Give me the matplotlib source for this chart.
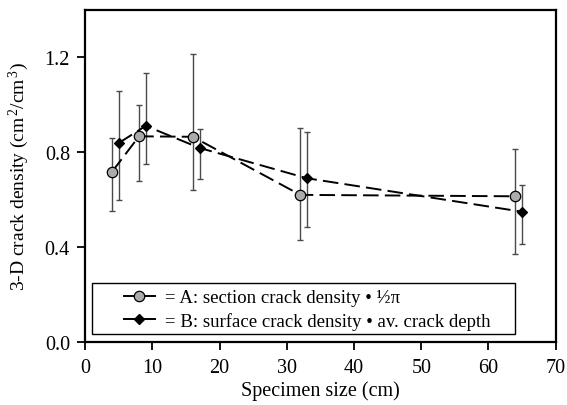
import matplotlib
matplotlib.use("Agg")
import matplotlib.pyplot as plt
from matplotlib.lines import Line2D
from matplotlib.patches import Rectangle

plt.rcParams['font.family'] = ['Liberation Serif', 'DejaVu Serif']
plt.rcParams['mathtext.fontset'] = 'custom'
plt.rcParams['mathtext.rm'] = 'Liberation Serif'
plt.rcParams['mathtext.it'] = 'Liberation Serif:italic'

# Series A: section crack density * 1/2 pi
a_x = [4, 8, 16, 32, 64]
a_y = [0.717, 0.866, 0.864, 0.619, 0.613]
a_lo = [0.552, 0.676, 0.638, 0.429, 0.371]
a_hi = [0.860, 0.999, 1.213, 0.900, 0.814]

# Series B: surface crack density * av. crack depth
b_x = [5, 9, 17, 33, 65]
b_y = [0.838, 0.910, 0.817, 0.689, 0.548]
b_lo = [0.598, 0.751, 0.686, 0.482, 0.412]
b_hi = [1.056, 1.133, 0.896, 0.883, 0.662]

x_ticks = [0, 10, 20, 30, 40, 50, 60, 70]
y_ticks = [0.0, 0.4, 0.8, 1.2]

fig = plt.figure(figsize=(5.67, 4.06), dpi=100)
ax = fig.add_axes([0.1504, 0.156, 0.8296, 0.8177])

def draw(xs, ys, lo, hi, marker, face, ms):
    yerr = [[y - l for y, l in zip(ys, lo)], [h - y for y, h in zip(ys, hi)]]
    ax.errorbar(xs, ys, yerr=yerr, fmt='none', ecolor='#4a4a4a', elinewidth=1.0,
                capsize=2.0, capthick=1.0, zorder=2)
    ax.plot(xs, ys, linestyle=(0, (8, 3.2)), color='black', linewidth=1.4, zorder=3)
    ax.plot(xs, ys, linestyle='none', marker=marker, markersize=ms,
            markerfacecolor=face, markeredgecolor='black', markeredgewidth=0.9, zorder=4)

draw(a_x, a_y, a_lo, a_hi, 'o', '#ababab', 7.5)
draw(b_x, b_y, b_lo, b_hi, 'D', 'black', 5.0)

ax.set_xlim(0, 70)
ax.set_ylim(0, 1.4)
ax.set_xticks(x_ticks)
ax.set_yticks(y_ticks)
ax.set_xticklabels([str(t) for t in x_ticks])
ax.set_yticklabels([f"{t:.1f}" for t in y_ticks])
ax.tick_params(direction='out', length=6, width=1.3, labelsize=14.5)
ax.tick_params(axis='x', pad=6)
ax.tick_params(axis='y', pad=5)
for s in ax.spines.values():
    s.set_linewidth(1.6)

ax.set_xlabel('Specimen size (cm)', fontsize=14.5, labelpad=2)
ax.set_ylabel('3-D crack density (cm$^{\\,2}$/cm$^{\\,3}$)', fontsize=14, labelpad=10)

# legend frame
ax.add_patch(Rectangle((0.015, 0.023), 0.898, 0.154, transform=ax.transAxes,
                       fill=True, facecolor='white', edgecolor='black',
                       linewidth=1.0, zorder=5))

handles = [
    Line2D([], [], color='black', linewidth=1.4, marker='o', markersize=7.5,
           markerfacecolor='#ababab', markeredgecolor='black', markeredgewidth=0.9),
    Line2D([], [], color='black', linewidth=1.4, marker='D', markersize=5.0,
           markerfacecolor='black', markeredgecolor='black'),
]
labels = ['= A: section crack density \u2022 \u00bd\u03c0',
          '= B: surface crack density \u2022 av. crack depth']
leg = ax.legend(handles, labels, loc='center left', bbox_to_anchor=(0.082, 0.097),
                fontsize=13.5, frameon=False, handlelength=1.65, handletextpad=0.55,
                borderpad=0, labelspacing=0.3, borderaxespad=0)
leg.set_zorder(6)

fig.savefig('out.png', dpi=100)
